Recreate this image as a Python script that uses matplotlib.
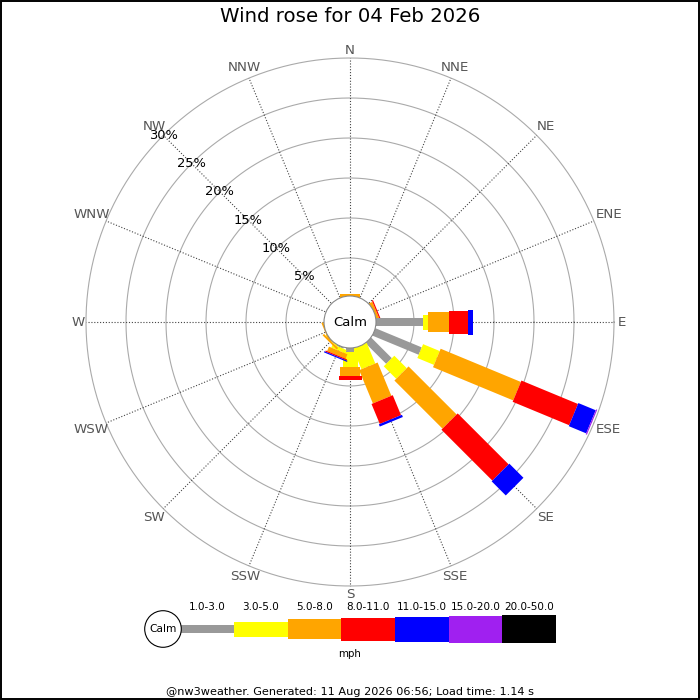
import numpy as np
import matplotlib
matplotlib.use("Agg")
import matplotlib.pyplot as plt
from matplotlib.patches import Polygon, Circle, Rectangle

# ---------------- data ----------------
title = "Wind rose for 04 Feb 2026"
directions = ['N', 'NNE', 'NE', 'ENE', 'E', 'ESE', 'SE', 'SSE',
              'S', 'SSW', 'SW', 'WSW', 'W', 'WNW', 'NW', 'NNW']
speed_bins = ['1.0-3.0', '3.0-5.0', '5.0-8.0', '8.0-11.0',
              '11.0-15.0', '15.0-20.0', '20.0-50.0']
bin_colors = ['#999999', '#ffff00', '#ffa500', '#ff0000',
              '#0000ff', '#a020f0', '#000000']
# percentage of time per direction, per speed bin (mph)
pct_1_3 =   [0, 0, 0, 0,    6.15, 6.5,  3.9, 0.2, 0.7,  0.4,  0.1,  0,    0, 0, 0, 0]
pct_3_5 =   [0, 0, 0, 0,    0.65, 2.25, 2.2, 2.8, 1.95, 0.45, 0.25, 0.1,  0, 0, 0, 0]
pct_5_8 =   [0.45, 0, 0, 0.55, 2.6, 10.85, 8.5, 4.5, 1.05, 0.6, 0.25, 0.25, 0, 0, 0, 0]
pct_8_11 =  [0, 0, 0, 0.15, 2.35, 7.65, 9.0, 2.7, 0.55, 0.15, 0,   0,    0, 0, 0, 0]
pct_11_15 = [0, 0, 0, 0,    0.65, 2.35, 2.5, 0.3, 0,    0.15, 0,    0,    0, 0, 0, 0]
pct_15_20 = [0, 0, 0, 0,    0,    0.15, 0,   0,   0,    0,    0,    0,    0, 0, 0, 0]
pct_20_50 = [0, 0, 0, 0,    0,    0,    0,   0,   0,    0,    0,    0,    0, 0, 0, 0]
ring_pcts = [5, 10, 15, 20, 25, 30]
units = "mph"
footer = "@nw3weather. Generated: 11 Aug 2026 06:56; Load time: 1.14 s"

series = [pct_1_3, pct_3_5, pct_5_8, pct_8_11, pct_11_15, pct_15_20, pct_20_50]

# ---------------- layout ----------------
W = H = 700
PX = 8.0              # pixels per percent
CX, CY = 350, 322     # rose centre (px from top-left)
R0 = 3.0              # calm offset in percent units
bar_w_px = [8, 15, 20, 23, 25, 27, 28]

fig = plt.figure(figsize=(7, 7), dpi=100)
ax = fig.add_axes([0, 0, 1, 1])
ax.set_xlim(-CX / PX, (W - CX) / PX)
ax.set_ylim(-(H - CY) / PX, CY / PX)
ax.axis('off')

# pixel overlay axes for legend / titles
axp = fig.add_axes([0, 0, 1, 1], facecolor='none')
axp.set_xlim(0, W)
axp.set_ylim(H, 0)
axp.axis('off')

rmax = R0 + ring_pcts[-1]
theta = np.radians(np.arange(16) * 22.5)

# rings
tt = np.linspace(0, 2 * np.pi, 400)
for rp in ring_pcts:
    r = R0 + rp
    ax.plot(r * np.cos(tt), r * np.sin(tt), color='#aaaaaa', lw=0.8, zorder=1)

# spokes
for th in theta:
    ax.plot([R0 * np.sin(th), rmax * np.sin(th)],
            [R0 * np.cos(th), rmax * np.cos(th)],
            color='#444444', lw=0.8, ls=(0, (1, 1.6)), zorder=1)

# bars
for d, th in enumerate(theta):
    u = np.array([np.sin(th), np.cos(th)])
    p = np.array([np.cos(th), -np.sin(th)])
    start = R0
    for b in range(len(series)):
        v = series[b][d]
        if v <= 0:
            continue
        end = start + v
        hw = bar_w_px[b] / PX / 2
        pts = [start * u + hw * p, end * u + hw * p,
               end * u - hw * p, start * u - hw * p]
        ax.add_patch(Polygon(pts, closed=True, facecolor=bin_colors[b],
                             edgecolor='none', zorder=3))
        start = end

# calm circle
ax.add_patch(Circle((0, 0), 3.25, facecolor='white', edgecolor='#888888',
                    lw=0.8, zorder=5))
ax.text(0, 0, 'Calm', ha='center', va='center', fontsize=9.5, zorder=6,
        family='DejaVu Sans')

# percent labels along NW
nw = np.radians(315)
for rp in ring_pcts:
    r = R0 + rp
    ax.text(r * np.sin(nw), r * np.cos(nw), f"{rp}%", ha='center',
            va='center', fontsize=9.4, color='black', zorder=6)

# direction labels
lab_r_px = [272, 275, 277, 280, 272, 280, 277, 275,
            273, 275, 277, 280, 272, 280, 277, 275]
for name, th, rl in zip(directions, theta, lab_r_px):
    r = rl / PX
    ax.text(r * np.sin(th), r * np.cos(th), name, ha='center', va='center',
            fontsize=9.6, color='#555555', zorder=6)

# title
axp.text(350, 17, title, ha='center', va='center', fontsize=14.2,
         color='black')

# legend
lx0, lseg, ly = 180.5, 53.6, 629
axp.add_patch(Circle((163, ly), 18.3, facecolor='white', edgecolor='black',
                     lw=0.8, zorder=4))
axp.text(163, ly, 'Calm', ha='center', va='center', fontsize=7.7, zorder=5)
for b, lab in enumerate(speed_bins):
    x0 = lx0 + b * lseg
    h = bar_w_px[b]
    axp.add_patch(Rectangle((x0, ly - h / 2), lseg, h,
                            facecolor=bin_colors[b], edgecolor='none',
                            zorder=3))
    axp.text(x0 + lseg / 2, 607, lab, ha='center', va='center',
             fontsize=7.5, color='black')
axp.text(350, 654, units, ha='center', va='center', fontsize=7.4)

axp.text(350, 692, footer, ha='center', va='center', fontsize=8.1)

# border
axp.add_patch(Rectangle((0.5, 0.5), W - 1.5, H - 1.5, facecolor='none',
                        edgecolor='black', lw=1.4, zorder=10))

fig.savefig('out.png', dpi=100)
